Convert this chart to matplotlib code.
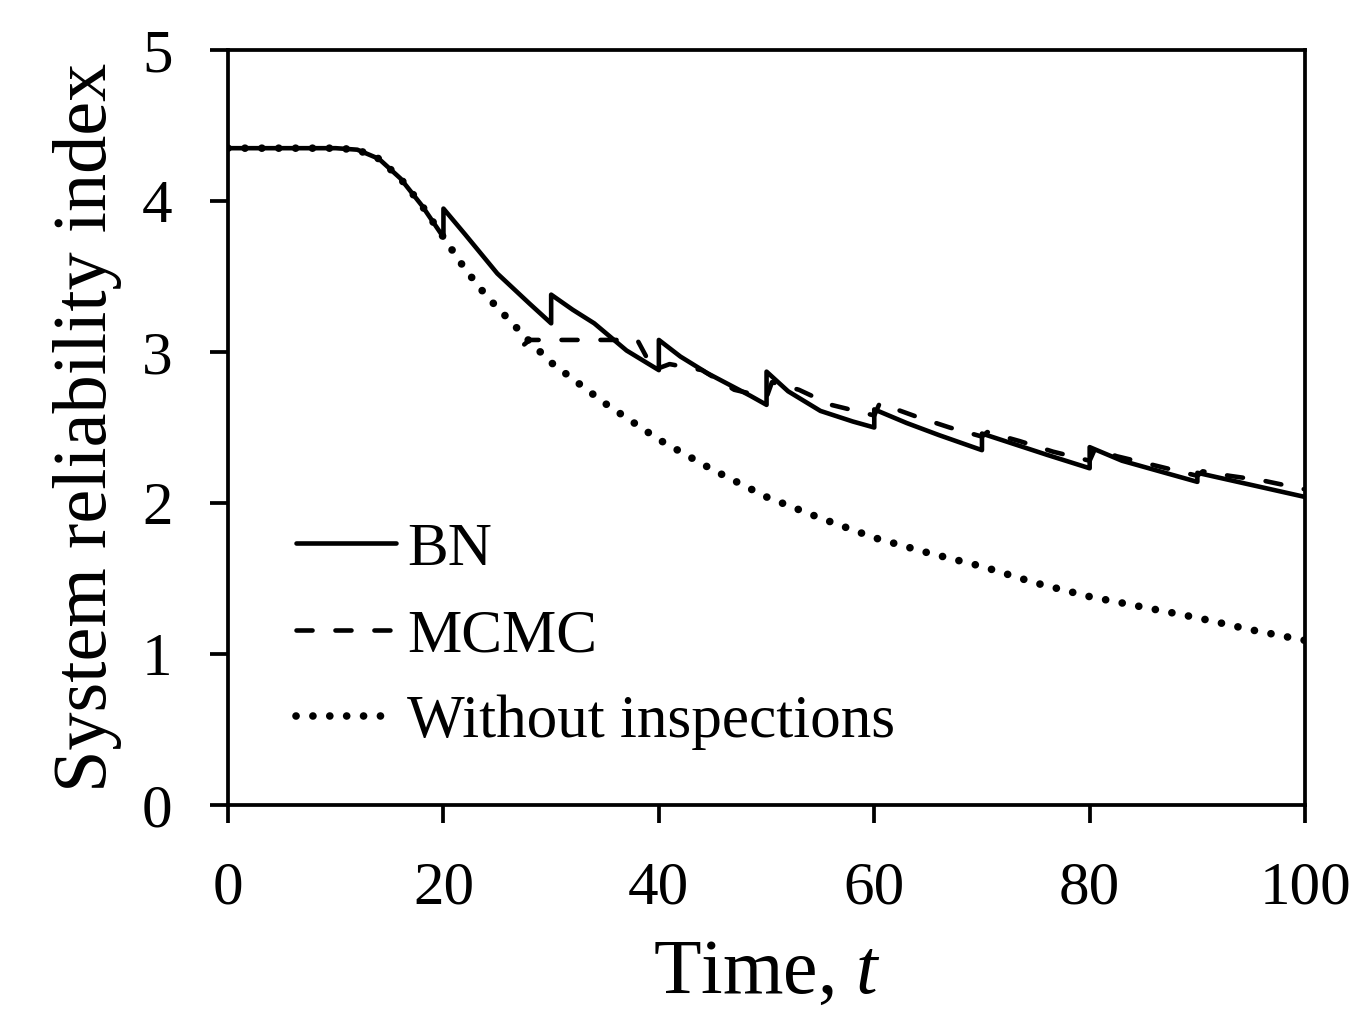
import matplotlib.pyplot as plt

# === Data ===
BN_T = [0, 5, 10, 12, 14, 16, 18, 20, 20, 22, 25, 28, 30, 30, 32, 34, 37, 40, 40, 42, 44.5, 48.5, 50,
        50, 52, 55, 58, 60, 60, 63, 66, 70, 70, 73, 76, 80, 80, 83, 86, 90, 90, 95, 100]
BN_Y = [4.35, 4.35, 4.35, 4.34, 4.28, 4.15, 3.97, 3.76, 3.95, 3.78, 3.52, 3.32, 3.19, 3.38, 3.28, 3.19,
        3.01, 2.88, 3.08, 2.97, 2.86, 2.71, 2.65, 2.87, 2.74, 2.61, 2.54, 2.50, 2.62, 2.53, 2.45, 2.35,
        2.46, 2.39, 2.32, 2.23, 2.37, 2.28, 2.22, 2.14, 2.20, 2.12, 2.04]

MCMC_T = [27.5, 28, 38, 39.5, 41, 44, 47, 50, 50.5, 53, 56, 60,
          60.5, 64, 67, 70, 70.5, 73.5, 76.6, 80, 80.5, 82.5, 86, 90, 90.5, 93, 96, 100]
MCMC_Y = [3.05, 3.08, 3.08, 2.88, 2.92,
          2.88, 2.75, 2.70, 2.80, 2.75, 2.65, 2.58, 2.66, 2.57, 2.50, 2.44, 2.47, 2.41, 2.34, 2.28,
          2.36, 2.31, 2.25, 2.18, 2.21, 2.18, 2.15, 2.09]

NoInsp_T = [0, 5, 10, 12, 14, 16, 18, 20, 22, 24, 26, 28, 30, 35, 40, 45, 50, 55, 60, 65, 70, 75,
            80, 85, 90, 95, 100]
NoInsp_Y = [4.35, 4.35, 4.35, 4.34, 4.28, 4.15, 3.97, 3.76, 3.55, 3.37, 3.22, 3.07, 2.93, 2.66, 2.42,
            2.22, 2.04, 1.90, 1.77, 1.67, 1.58, 1.47, 1.38, 1.31, 1.24, 1.16, 1.09]

XTicks = [0, 20, 40, 60, 80, 100]
YTicks = [0, 1, 2, 3, 4, 5]

# === Plot ===
plt.rcParams['font.family'] = ['Liberation Serif', 'DejaVu Serif']
plt.rcParams['mathtext.fontset'] = 'custom'
plt.rcParams['mathtext.it'] = 'Liberation Serif:italic'

fig = plt.figure(figsize=(13.51, 10.15), dpi=100)
ax = fig.add_axes([0.1688, 0.2069, 0.7972, 0.7438])

ax.plot(BN_T, BN_Y, color='black', lw=3.3, label='BN',
        solid_joinstyle='round', solid_capstyle='round')
ax.plot(MCMC_T, MCMC_Y, color='black', lw=3.3, linestyle=(0, (3.5, 5)),
        dash_capstyle='round', dash_joinstyle='round', label='MCMC')
ax.plot(NoInsp_T, NoInsp_Y, color='black', lw=5.5, linestyle=(0, (0.01, 2.2)),
        dash_capstyle='round', label='Without inspections')

ax.set_xlim(0, 100)
ax.set_ylim(0, 5)
ax.set_xticks(XTicks)
ax.set_yticks(YTicks)
ax.tick_params(axis='both', labelsize=44, length=13, width=2.7, direction='out')
ax.tick_params(axis='x', pad=27)
ax.tick_params(axis='y', pad=27)
for Spine in ax.spines.values():
    Spine.set_linewidth(2.7)

ax.set_xlabel('Time, $t$', fontsize=56, labelpad=16)
ax.set_ylabel('System reliability index', fontsize=55, labelpad=14)

ax.legend(loc='lower left', bbox_to_anchor=(0.04, 0.04), frameon=False, fontsize=44,
          handlelength=1.64, handletextpad=0.18, labelspacing=0.5, borderaxespad=0)

plt.savefig('out.png', dpi=100)
